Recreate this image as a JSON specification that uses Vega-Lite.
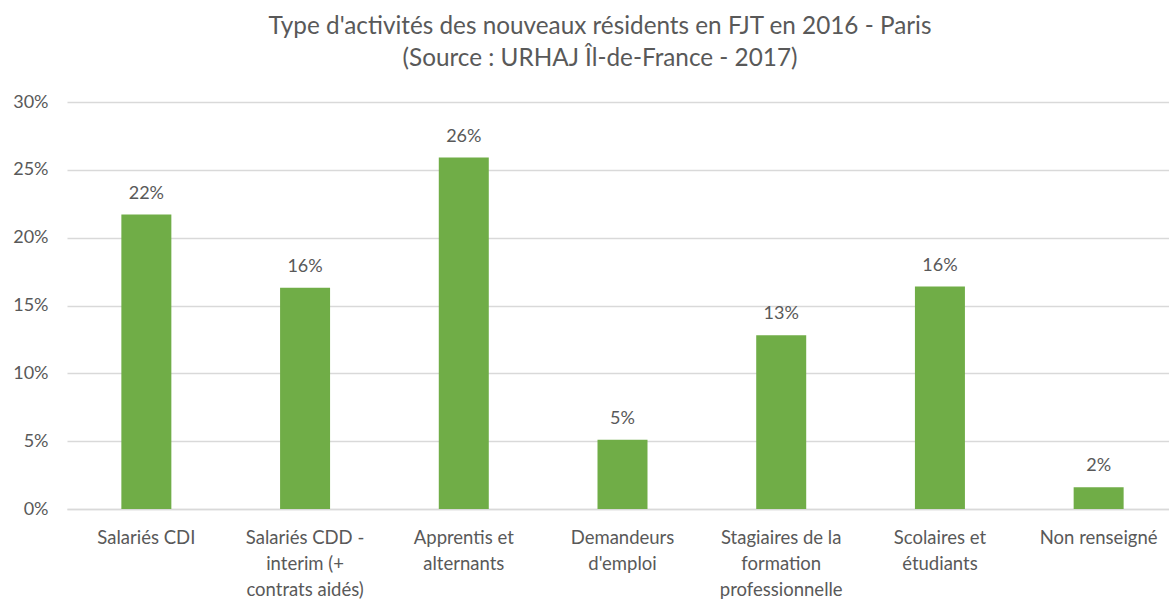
{
  "$schema": "https://vega.github.io/schema/vega-lite/v6.json",
  "width": 1102,
  "height": 407,
  "autosize": {"type": "none"},
  "padding": {"left": 67, "top": 102, "right": 0, "bottom": 90},
  "background": "white",
  "title": {
    "text": ["Type d'activités des nouveaux résidents en FJT en 2016 - Paris", "(Source : URHAJ Îl-de-France - 2017)"],
    "font": "Lato",
    "fontSize": 24.3,
    "fontWeight": "normal",
    "color": "#595959",
    "lineHeight": 32,
    "anchor": "middle",
    "dx": -18,
    "offset": 22
  },
  "data": {
    "values": [
      {"categorie": "Salariés CDI", "part": 0.217, "etiquette": "22%"},
      {"categorie": "Salariés CDD -|interim (+|contrats aidés)", "part": 0.163, "etiquette": "16%"},
      {"categorie": "Apprentis et|alternants", "part": 0.259, "etiquette": "26%"},
      {"categorie": "Demandeurs|d'emploi", "part": 0.051, "etiquette": "5%"},
      {"categorie": "Stagiaires de la|formation|professionnelle", "part": 0.128, "etiquette": "13%"},
      {"categorie": "Scolaires et|étudiants", "part": 0.164, "etiquette": "16%"},
      {"categorie": "Non renseigné", "part": 0.016, "etiquette": "2%"}
    ]
  },
  "encoding": {
    "x": {
      "field": "categorie",
      "type": "nominal",
      "sort": null,
      "scale": {"paddingInner": 0.685, "paddingOuter": 0.3425, "range": [0, 1111]},
      "axis": {
        "title": null,
        "labelAngle": 0,
        "labelExpr": "split(datum.label, '|')",
        "labelFont": "Lato",
        "labelFontSize": 18.5,
        "labelColor": "#595959",
        "labelLineHeight": 26,
        "labelPadding": 19,
        "labelLimit": 300,
        "ticks": false,
        "domainColor": "#D9D9D9",
        "domainWidth": 1.5
      }
    },
    "y": {
      "field": "part",
      "type": "quantitative",
      "scale": {"domain": [0, 0.3]},
      "axis": {
        "title": null,
        "format": ".0%",
        "values": [0, 0.05, 0.1, 0.15, 0.2, 0.25, 0.3],
        "labelFont": "Lato",
        "labelFontSize": 18,
        "labelColor": "#595959",
        "labelPadding": 19,
        "ticks": false,
        "domain": false,
        "gridColor": "#D9D9D9",
        "gridWidth": 1.5
      }
    }
  },
  "layer": [
    {"mark": {"type": "bar", "color": "#70AD47"}},
    {
      "mark": {"type": "text", "dy": -21, "font": "Lato", "fontSize": 18, "color": "#595959"},
      "encoding": {"text": {"field": "etiquette"}}
    }
  ],
  "config": {"view": {"stroke": null}}
}
